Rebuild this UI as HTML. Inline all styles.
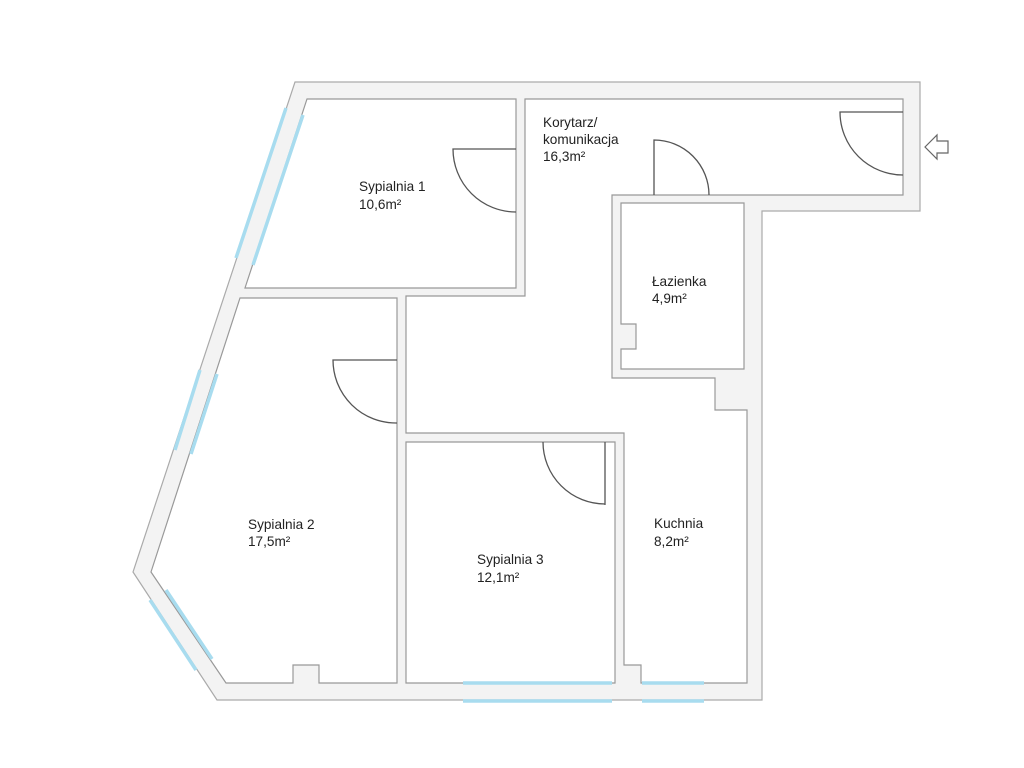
<!DOCTYPE html>
<html><head><meta charset="utf-8"><style>
html,body{margin:0;padding:0;background:#fff;width:1024px;height:768px;overflow:hidden}
svg text{font-family:"Liberation Sans",Arial,sans-serif;font-size:13.6px;fill:#222}
</style></head><body>
<svg width="1024" height="768" viewBox="0 0 1024 768" xmlns="http://www.w3.org/2000/svg">
<polygon points="295,82 920,82 920,211 762,211 762,700 217,700 133,572" fill="#f3f3f3" stroke="#aaa" stroke-width="1.2"/>
<g fill="#fff" stroke="#999" stroke-width="1.2">
<polygon points="307,99 516,99 516,288 245,288"/>
<polygon points="525,99 903,99 903,195 612,195 612,378 715,378 715,410 747,410 747,683 641,683 641,665 624,665 624,433 406,433 406,296 525,296"/>
<polygon points="621,203 744,203 744,369 621,369 621,349 636,349 636,324 621,324"/>
<polygon points="240,298 397,298 397,683 319,683 319,665 293,665 293,683 226,683 151,572"/>
<polygon points="406,442 615,442 615,683 406,683"/>
</g>
<g stroke="#a8dcef" stroke-width="3.5" fill="none">
<line x1="286" y1="108" x2="236" y2="258"/>
<line x1="303" y1="115" x2="253" y2="265"/>
<line x1="200" y1="370" x2="175" y2="450"/>
<line x1="217" y1="374" x2="191" y2="454"/>
<line x1="150" y1="600" x2="196" y2="670"/>
<line x1="166" y1="590" x2="212" y2="659"/>
<line x1="463" y1="683" x2="612" y2="683"/>
<line x1="463" y1="701" x2="612" y2="701"/>
<line x1="642" y1="683" x2="704" y2="683"/>
<line x1="642" y1="701" x2="704" y2="701"/>
</g>
<g stroke="#555" stroke-width="1.3" fill="none">
<path d="M516,149 L453,149 A63,63 0 0 0 516,212"/>
<path d="M903,112 L840,112 A63,63 0 0 0 903,175"/>
<path d="M654,195 L654,140 A55,55 0 0 1 709,195"/>
<path d="M397,360 L333,360 A63,63 0 0 0 397,423"/>
<path d="M605,505 L605,442 M543,442 A62,62 0 0 0 605,504"/>
</g>
<polygon points="925,147 937,135 937,141 948,141 948,153 937,153 937,159" fill="#fff" stroke="#666" stroke-width="1.2"/>
<text x="543" y="127">Korytarz/</text>
<text x="543" y="144">komunikacja</text>
<text x="543" y="161">16,3m²</text>
<text x="359" y="191">Sypialnia 1</text>
<text x="359" y="209">10,6m²</text>
<text x="652" y="286">Łazienka</text>
<text x="652" y="303">4,9m²</text>
<text x="248" y="529">Sypialnia 2</text>
<text x="248" y="546">17,5m²</text>
<text x="654" y="528">Kuchnia</text>
<text x="654" y="546">8,2m²</text>
<text x="477" y="564">Sypialnia 3</text>
<text x="477" y="582">12,1m²</text>
</svg>
</body></html>
